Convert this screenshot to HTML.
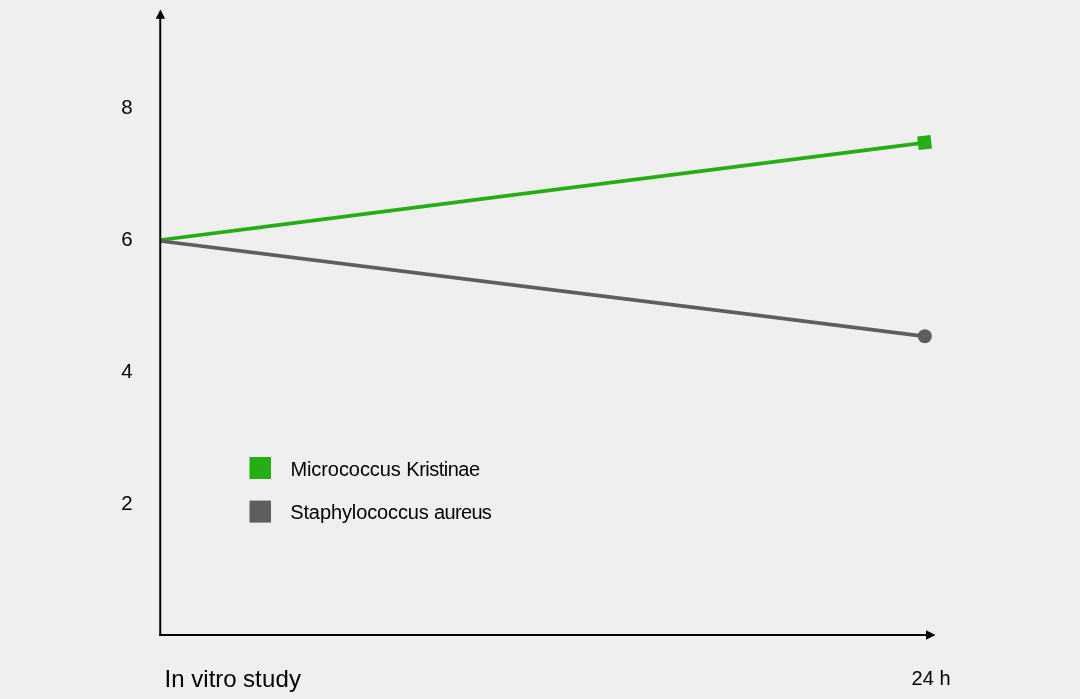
<!DOCTYPE html>
<html lang="en">
<head>
<meta charset="utf-8">
<title>In vitro study</title>
<style>
  html, body { margin: 0; padding: 0; background: #efefef; }
  body { width: 1080px; height: 699px; overflow: hidden; position: relative;
         font-family: "Liberation Sans", Arial, Helvetica, sans-serif; color: #000; }
  svg { position: absolute; left: 0; top: 0; display: block; }
  text { font-family: "Liberation Sans", Arial, Helvetica, sans-serif; fill: #000; }
  .tick { font-size: 20.5px; }
  .legend { font-size: 20px; }
  .title { font-size: 24px; }
  .xlab { font-size: 20px; }
</style>
</head>
<body>
<svg width="1080" height="699" viewBox="0 0 1080 699">
  <rect x="0" y="0" width="1080" height="699" fill="#efefef"/>

  <!-- data lines -->
  <line x1="160.5" y1="240.0" x2="925" y2="142.6" stroke="#24ae14" stroke-width="3.7"/>
  <line x1="160.5" y1="241.0" x2="925" y2="336.3" stroke="#5e5e5e" stroke-width="3.7"/>

  <!-- markers -->
  <circle cx="924.8" cy="336.25" r="7" fill="#5e5e5e"/>
  <rect x="-6.7" y="-6.7" width="13.4" height="13.4" fill="#24ae14" transform="translate(924.6 142.5) rotate(-6.5)"/>

  <!-- axes -->
  <line x1="160.25" y1="17" x2="160.25" y2="635.9" stroke="#000" stroke-width="2"/>
  <line x1="159.25" y1="635" x2="927" y2="635" stroke="#000" stroke-width="1.8"/>
  <polygon points="160.4,9.5 165.1,18.8 155.7,18.8" fill="#000"/>
  <polygon points="935.5,635 926,630.3 926,639.7" fill="#000"/>

  <!-- y tick labels -->
  <text class="tick" x="121.2" y="113.7">8</text>
  <text class="tick" x="121.2" y="246.2">6</text>
  <text class="tick" x="121.2" y="378.2">4</text>
  <text class="tick" x="121.2" y="510.3">2</text>

  <!-- legend -->
  <rect x="249.5" y="457" width="21.5" height="22" fill="#24ae14"/>
  <rect x="249.5" y="500.6" width="21.5" height="22" fill="#5e5e5e"/>
  <text class="legend" x="290.4 306.98 311.35 321.29 327.87 338.93 348.85 359.92 369.84 379.77 390.82 400.77 406.3 419.13 425.3 429.24 438.74 443.8 447.74 458.36 468.99" y="475.55">Micrococcus Kristinae</text>
  <text class="legend" x="290.2 303.42 308.87 319.89 330.89 341.9 351.79 356.14 367.14 377.03 388.04 397.93 407.83 418.84 428.75 434 444.45 454.92 460.92 471.38 481.84" y="519.25">Staphylococcus aureus</text>

  <!-- axis captions -->
  <text class="title" x="164.6 171.26 184.62 191.3 203.3 208.63 215.3 223.28 236.64 242.9 255.09 261.96 275.51 289.06" y="687">In vitro study</text>
  <text class="xlab" x="911.6 922.71 933.85 939.6" y="685.1">24 h</text>
</svg>
</body>
</html>
